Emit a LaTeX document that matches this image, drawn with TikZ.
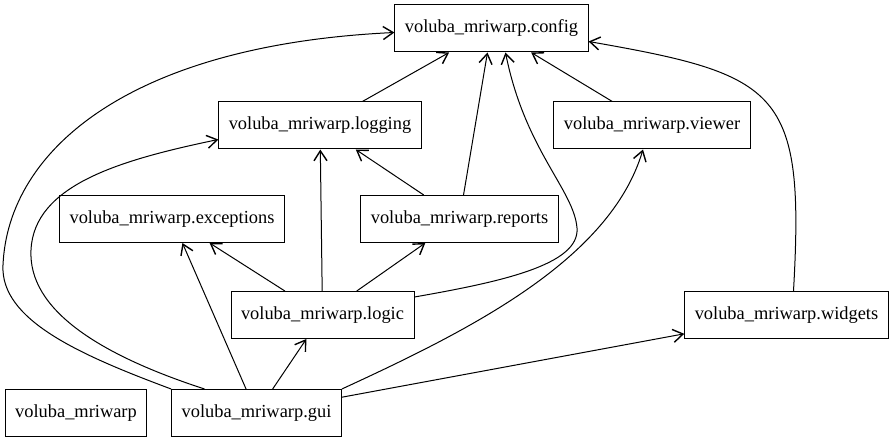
\documentclass[tikz,border=0pt]{standalone}
\usepackage{fontspec}
\setmainfont{Liberation Serif}
\usetikzlibrary{arrows.meta}

\begin{document}
\begin{tikzpicture}[x=1pt, y=-1pt]

\tikzset{modbox/.style={draw=black, line width=1pt, inner xsep=10pt, minimum height=47pt, font=\fontsize{18.4}{22}\selectfont}}
\tikzset{dep/.style={line width=1pt, -{Straight Barb[length=10pt, width=13pt, line width=1.4pt]}}}

\useasboundingbox (0,0) rectangle (895,443);

\node[modbox] (config) at (491.5,28.5) {voluba\_mriwarp.config};
\node[modbox] (logging) at (320,125.5) {voluba\_mriwarp.logging};
\node[modbox] (viewer) at (652,125.5) {voluba\_mriwarp.viewer};
\node[modbox] (exceptions) at (172,219) {voluba\_mriwarp.exceptions};
\node[modbox] (reports) at (459.5,219) {voluba\_mriwarp.reports};
\node[modbox] (logic) at (322.5,315) {voluba\_mriwarp.logic};
\node[modbox] (widgets) at (786.5,315) {voluba\_mriwarp.widgets};
\node[modbox] (pkg) at (76,413) {voluba\_mriwarp};
\node[modbox] (gui) at (256.5,413) {voluba\_mriwarp.gui};

\draw[dep] (logging) -- (config);
\draw[dep] (reports) -- (config);
\draw[dep] (viewer) -- (config);
\draw[dep] (reports) -- (logging);
\draw[dep] (logic) -- (logging);
\draw[dep] (logic) -- (exceptions);
\draw[dep] (logic) -- (reports);
\draw[dep] (gui) -- (exceptions);
\draw[dep] (gui) -- (logic);
\draw[dep] (gui) -- (widgets);

% curved ones
\draw[dep] (gui.north west) .. controls (80,355) and (0,320) .. (3,265)
  .. controls (8,150) and (130,45) .. ([yshift=-4pt]config.west);
\draw[dep] ([xshift=-52pt]gui.north) .. controls (100,355) and (28,310) .. (31,250)
  .. controls (34,185) and (120,160) .. ([yshift=-14pt]logging.west);
\draw[dep] ([yshift=18pt]logic.east) .. controls (500,282) and (580,265) .. (577,228)
  .. controls (574,190) and (525,150) .. ([xshift=14pt]config.south);
\draw[dep] (gui.north east) .. controls (470,330) and (610,260) .. ([xshift=-9pt]viewer.south);
\draw[dep] ([xshift=7pt]widgets.north) .. controls (805,90) and (780,75) .. ([yshift=-13pt]config.east);

\end{tikzpicture}
\end{document}
